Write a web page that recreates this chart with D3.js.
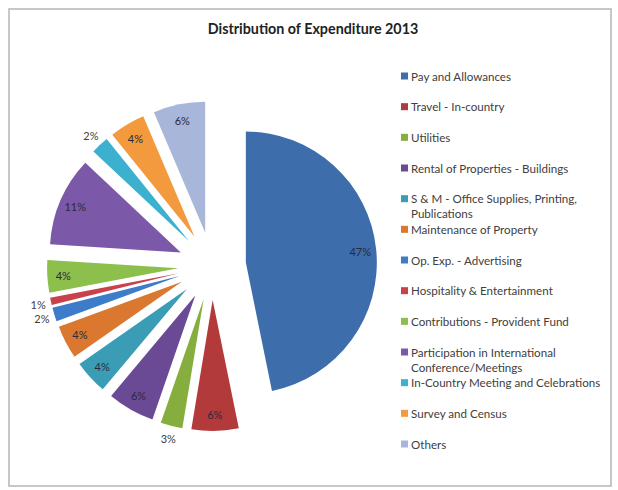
<!DOCTYPE html>
<html><head><meta charset="utf-8">
<script src="https://cdn.jsdelivr.net/npm/d3@7"></script>
<style>body{margin:0;background:#fff}svg{display:block}</style>
</head><body><svg id="c" width="618" height="490"></svg>
<script>
const title = "Distribution of Expenditure 2013";
const categories = ["Pay and Allowances","Travel - In-country","Utilities","Rental of Properties - Buildings","S & M - Office Supplies, Printing, Publications","Maintenance of Property","Op. Exp. - Advertising","Hospitality & Entertainment","Contributions - Provident Fund","Participation in International Conference/Meetings","In-Country Meeting and Celebrations","Survey and Census","Others"];
const legendLines = [["Pay and Allowances"],["Travel - In-country"],["Utilities"],["Rental of Properties - Buildings"],["S & M - Office Supplies, Printing,","Publications"],["Maintenance of Property"],["Op. Exp. - Advertising"],["Hospitality & Entertainment"],["Contributions - Provident Fund"],["Participation in International","Conference/Meetings"],["In-Country Meeting and Celebrations"],["Survey and Census"],["Others"]];
const values = [46.8,5.8,2.7,5.8,4.2,4.1,1.7,0.9,4.0,11.0,2.2,4.4,6.4];
const colors = ["#3D6DAB","#B23A3A","#86AE3E","#6A4A95","#3A9DB5","#D9782E","#3C7CC8","#C9414A","#8DBF4C","#7B58A8","#3BB0CF","#F39A3E","#A7B6D9"];

const svg = d3.select("#c");
const font = "Lato, 'Open Sans', sans-serif";
svg.append("rect").attr("x",9).attr("y",9).attr("width",602).attr("height",477)
  .attr("fill","#fff").attr("stroke","#b5b5b5").attr("stroke-width",1.5);

svg.append("text").attr("x",313).attr("y",34).attr("text-anchor","middle")
  .attr("font-family",font).attr("font-weight","bold").attr("font-size",14.3)
  .attr("fill","#222").text(title);

const cx = 212, cy = 266, r = 131, explode = 34;
const total = d3.sum(values);
const pie = d3.pie().sort(null).value(d => d);
const arc = d3.arc().innerRadius(0).outerRadius(r);
const arcs = pie(values);
const g = svg.append("g").attr("transform",`translate(${cx},${cy})`);

const slices = g.selectAll("g.s").data(arcs).enter().append("g")
  .attr("transform", d => {
    const m = (d.startAngle + d.endAngle)/2;
    return `translate(${explode*Math.sin(m)},${-explode*Math.cos(m)})`;
  });
slices.append("path").attr("d", arc).attr("fill",(d,i)=>colors[i]);
slices.append("text")
  .attr("transform", d => {
    const m = (d.startAngle + d.endAngle)/2;
    const inside = d.value/total >= 0.035;
    const dist = inside ? r - 16 : r + 13;
    return `translate(${dist*Math.sin(m)},${-dist*Math.cos(m)})`;
  })
  .attr("text-anchor","middle").attr("dominant-baseline","central")
  .attr("font-family",font).attr("font-size",11)
  .attr("fill", d => d.value/total >= 0.035 ? "#2a2a3a" : "#404040")
  .text(d => Math.round(d.value/total*100) + "%");

const lg = svg.append("g");
const ly = d3.scaleLinear().domain([0, categories.length-1]).range([76, 444]);
categories.forEach((c,i) => {
  const y = ly(i);
  lg.append("rect").attr("x",401).attr("y",y-3.5).attr("width",7).attr("height",7).attr("fill",colors[i]);
  legendLines[i].forEach((t,j) => {
    lg.append("text").attr("x",411).attr("y",y + j*15).attr("dominant-baseline","central")
      .attr("font-family",font).attr("font-size",11.6).attr("fill","#404040").text(t);
  });
});
</script></body></html>
